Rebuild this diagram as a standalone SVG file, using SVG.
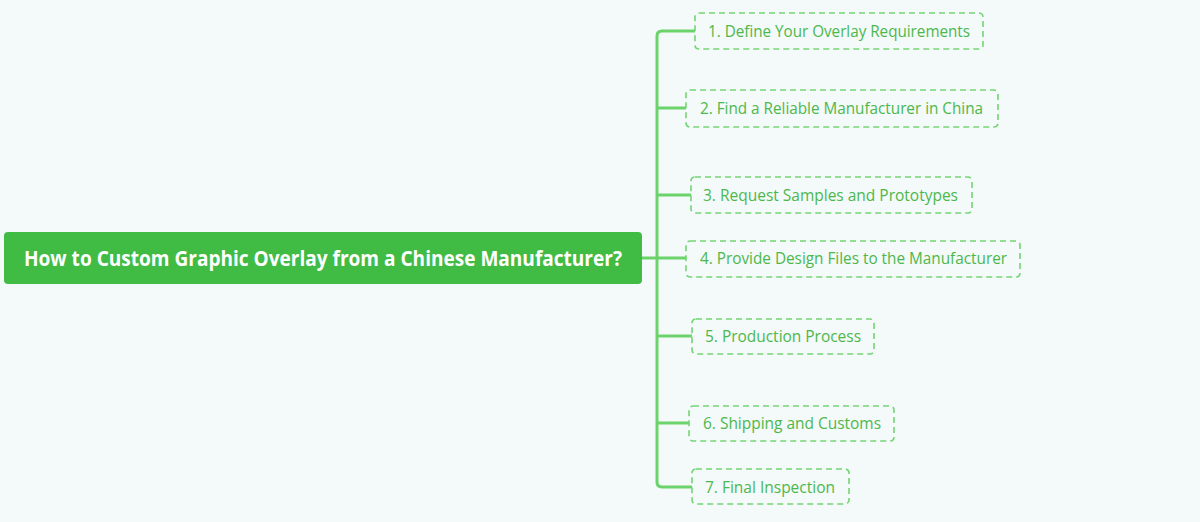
<svg xmlns="http://www.w3.org/2000/svg" width="1200" height="522" viewBox="0 0 1200 522">
<style>
.bg{fill:#f4f9f9}
.root{fill:#40bc45}
.rt{font-family:"Open Sans","Noto Sans",sans-serif;font-weight:bold;font-size:21.5px;fill:#ffffff}
.box{fill:none;stroke:#74d574;stroke-width:1.6;stroke-dasharray:6 4}
.ct{font-family:"Open Sans","Noto Sans",sans-serif;font-size:16px;fill:#4cb84c}
.ln{fill:none;stroke:#6ad36a;stroke-width:3}
</style>
<rect class="bg" x="0" y="0" width="1200" height="522"/>
<g id="connectors">
<path class="ln" d="M642 258 H657"/>
<path class="ln" d="M695 31 H662 Q657 31 657 36 V482 Q657 487 662 487 H692"/>
<path class="ln" d="M657 108 H686"/>
<path class="ln" d="M657 195 H691"/>
<path class="ln" d="M657 258 H686"/>
<path class="ln" d="M657 336 H692"/>
<path class="ln" d="M657 423 H689"/>
</g>
<g id="root">
<rect class="root" x="4" y="232" width="638" height="52" rx="4"/>
<text class="rt" x="24" y="266" textLength="598" lengthAdjust="spacingAndGlyphs">How to Custom Graphic Overlay from a Chinese Manufacturer?</text>
</g>
<g id="n1">
<rect class="box" x="695" y="13" width="288" height="36" rx="4"/>
<text class="ct" x="708" y="36.5" textLength="262" lengthAdjust="spacingAndGlyphs">1. Define Your Overlay Requirements</text>
</g>
<g id="n2">
<rect class="box" x="686" y="90" width="312" height="37" rx="4"/>
<text class="ct" x="700" y="114" textLength="283" lengthAdjust="spacingAndGlyphs">2. Find a Reliable Manufacturer in China</text>
</g>
<g id="n3">
<rect class="box" x="691" y="177" width="281" height="36" rx="4"/>
<text class="ct" x="703" y="200.5" textLength="255" lengthAdjust="spacingAndGlyphs">3. Request Samples and Prototypes</text>
</g>
<g id="n4">
<rect class="box" x="686" y="241" width="334" height="36" rx="4"/>
<text class="ct" x="700" y="264" textLength="307" lengthAdjust="spacingAndGlyphs">4. Provide Design Files to the Manufacturer</text>
</g>
<g id="n5">
<rect class="box" x="692" y="319" width="182" height="35" rx="4"/>
<text class="ct" x="705" y="342" textLength="156" lengthAdjust="spacingAndGlyphs">5. Production Process</text>
</g>
<g id="n6">
<rect class="box" x="689" y="406" width="205" height="35" rx="4"/>
<text class="ct" x="703" y="429" textLength="178" lengthAdjust="spacingAndGlyphs">6. Shipping and Customs</text>
</g>
<g id="n7">
<rect class="box" x="692" y="469" width="157" height="35" rx="4"/>
<text class="ct" x="705" y="492.5" textLength="130" lengthAdjust="spacingAndGlyphs">7. Final Inspection</text>
</g>
</svg>
